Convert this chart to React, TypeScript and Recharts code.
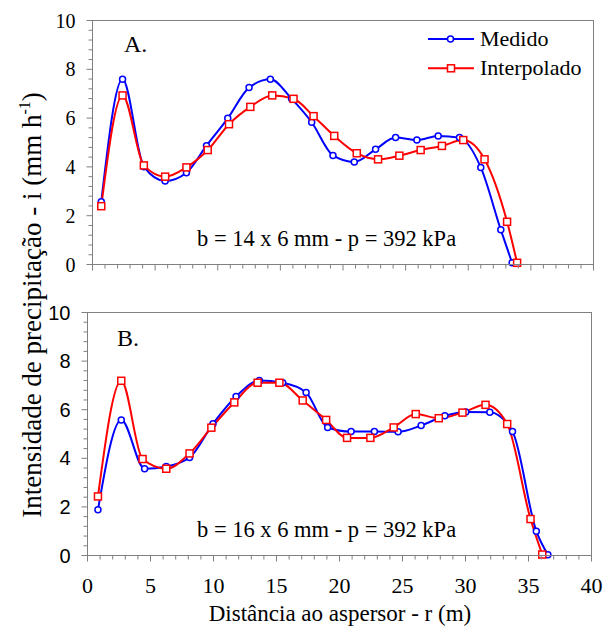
import React from "react";
import { Line, LineChart, XAxis, YAxis } from "recharts";

const AXIS = "#808080";
const BLUE = "#0000ff";
const RED = "#ff0000";
const SERIF = "'Liberation Serif', 'Times New Roman', serif";
const SANS = "'Liberation Sans', Arial, sans-serif";

// distance (m) and intensity (mm/h)
const aMedidoX = [0.7, 2.4, 4.1, 5.8, 7.5, 9.1, 10.8, 12.5, 14.2, 15.9, 17.5, 19.2, 20.9, 22.6, 24.2, 25.9, 27.6, 29.3, 31.0, 32.6, 33.5];
const aMedidoY = [2.57, 7.59, 4.01, 3.42, 3.76, 4.87, 5.99, 7.25, 7.59, 6.79, 5.83, 4.47, 4.2, 4.72, 5.2, 5.1, 5.27, 5.2, 3.98, 1.42, 0.07];
const aInterpX = [0.7, 2.4, 4.1, 5.8, 7.5, 9.2, 10.9, 12.6, 14.35, 16.05, 17.65, 19.3, 21.1, 22.8, 24.5, 26.2, 27.9, 29.6, 31.3, 33.1, 33.9];
const aInterpY = [2.39, 6.93, 4.06, 3.6, 3.98, 4.69, 5.75, 6.46, 6.93, 6.79, 6.08, 5.27, 4.56, 4.31, 4.46, 4.69, 4.86, 5.1, 4.31, 1.75, 0.07];

const bMedidoX = [0.83, 2.68, 4.53, 6.25, 8.1, 9.96, 11.79, 13.64, 15.49, 17.35, 19.06, 20.92, 22.77, 24.65, 26.48, 28.36, 30.02, 31.93, 33.73, 35.62, 36.54];
const bMedidoY = [1.88, 5.58, 3.57, 3.66, 4.03, 5.42, 6.54, 7.2, 7.11, 6.71, 5.27, 5.1, 5.1, 5.09, 5.35, 5.75, 5.91, 5.9, 5.1, 1.0, 0.03];
const bInterpX = [0.83, 2.68, 4.37, 6.25, 8.1, 9.83, 11.65, 13.5, 15.23, 17.08, 18.94, 20.6, 22.45, 24.3, 26.05, 27.88, 29.76, 31.59, 33.31, 35.16, 36.09];
const bInterpY = [2.43, 7.19, 3.97, 3.57, 4.2, 5.26, 6.3, 7.11, 7.11, 6.38, 5.58, 4.84, 4.84, 5.27, 5.82, 5.65, 5.88, 6.2, 5.41, 1.5, 0.04];

const xTicks = [0, 1, 2, 3, 4, 5, 6, 7, 8, 9, 10, 11, 12, 13, 14, 15, 16, 17, 18, 19, 20, 21, 22, 23, 24, 25, 26, 27, 28, 29, 30, 31, 32, 33, 34, 35, 36, 37, 38, 39, 40];
const yTicks = [0, 0.4, 0.8, 1.2, 1.6, 2, 2.4, 2.8, 3.2, 3.6, 4, 4.4, 4.8, 5.2, 5.6, 6, 6.4, 6.8, 7.2, 7.6, 8, 8.4, 8.8, 9.2, 9.6, 10];

const zip = (xs: number[], ys: number[]) => xs.map((x, i) => ({ x, y: ys[i] }));

// plot boxes of the two panels in page pixels (frame + tick marks)
const frames = [
  { left: 92.5, right: 593.5, top: 20.5, bottom: 264.5 },
  { left: 87.5, right: 591.5, top: 312.5, bottom: 555.5 },
];

function CircleDot(props: any) {
  const { cx, cy } = props;
  if (cx == null || cy == null) return null;
  return <circle cx={cx} cy={cy} r={3} fill="#fff" stroke={BLUE} strokeWidth={1.5} />;
}

function SquareDot(props: any) {
  const { cx, cy } = props;
  if (cx == null || cy == null) return null;
  return <rect x={cx - 3.5} y={cy - 3.5} width={7} height={7} fill="#fff" stroke={RED} strokeWidth={1.5} />;
}

function makeXTick(showLabels: boolean) {
  return (props: any) => {
    const { x, y, payload } = props;
    const major = payload.value % 5 === 0;
    if (!showLabels || !major) return <g />;
    return (
      <text x={x} y={Number(y) + 37} textAnchor="middle" fontFamily={SERIF} fontSize={22} fill="#000">
        {payload.value}
      </text>
    );
  };
}

function makeYTick(font: string, size: number) {
  return (props: any) => {
    const { x, y, payload } = props;
    const v = payload.value;
    const major = Number.isInteger(v) && v % 2 === 0;
    if (!major) return <g />;
    return (
      <text x={Number(x) - 17} y={Number(y) + 7} textAnchor="end" fontFamily={font} fontSize={size} fill="#000">
        {v}
      </text>
    );
  };
}

function Panel({
  medido,
  interp,
  height,
  margin,
  yWidth,
  showXLabels,
  yFont,
}: {
  medido: { x: number; y: number }[];
  interp: { x: number; y: number }[];
  height: number;
  margin: { top: number; right: number; bottom: number; left: number };
  yWidth: number;
  showXLabels: boolean;
  yFont: string;
}) {
  return (
    <LineChart width={605} height={height} margin={margin}>
      <XAxis
        dataKey="x"
        type="number"
        domain={[0, 40]}
        ticks={xTicks}
        interval={0}
        height={1}
        tickSize={0}
        tickMargin={0}
        tickLine={false}
        axisLine={{ stroke: AXIS }}
        tick={makeXTick(showXLabels)}
      />
      <YAxis
        type="number"
        domain={[0, 10]}
        ticks={yTicks}
        interval={0}
        width={yWidth}
        tickSize={0}
        tickMargin={0}
        tickLine={false}
        axisLine={{ stroke: AXIS }}
        tick={makeYTick(yFont, 20)}
      />
      <Line
        data={medido}
        dataKey="y"
        name="Medido"
        type="monotone"
        stroke={BLUE}
        strokeWidth={2}
        dot={<CircleDot />}
        isAnimationActive={false}
      />
      <Line
        data={interp}
        dataKey="y"
        name="Interpolado"
        type="monotone"
        stroke={RED}
        strokeWidth={2}
        dot={<SquareDot />}
        isAnimationActive={false}
      />
    </LineChart>
  );
}

export default function App() {
  const legendRows = [
    { name: "Medido", color: BLUE, square: false, cy: 39 },
    { name: "Interpolado", color: RED, square: true, cy: 68.3 },
  ];
  return (
    <div style={{ position: "absolute", left: 0, top: 0, width: 605, height: 633, background: "#fff" }}>
      <div style={{ position: "absolute", left: 0, top: 0 }}>
        <Panel
          medido={zip(aMedidoX, aMedidoY)}
          interp={zip(aInterpX, aInterpY)}
          height={290}
          margin={{ top: 20.5, right: 11.5, bottom: 24.5, left: 0 }}
          yWidth={92.5}
          showXLabels={false}
          yFont={SERIF}
        />
      </div>
      <div style={{ position: "absolute", left: 0, top: 292 }}>
        <Panel
          medido={zip(bMedidoX, bMedidoY)}
          interp={zip(bInterpX, bInterpY)}
          height={341}
          margin={{ top: 20.5, right: 13.5, bottom: 76.5, left: 0 }}
          yWidth={87.5}
          showXLabels
          yFont={SANS}
        />
      </div>
      <svg
        width={605}
        height={633}
        style={{ position: "absolute", left: 0, top: 0, pointerEvents: "none" }}
      >
        {/* panel frames and tick marks */}
        {frames.map((f, i) => {
          const sx = (v: number) => f.left + ((f.right - f.left) * v) / 40;
          const sy = (v: number) => f.bottom - ((f.bottom - f.top) * v) / 10;
          return (
            <g key={i} stroke={AXIS} strokeWidth={1} fill="none">
              <rect x={f.left} y={f.top} width={f.right - f.left} height={f.bottom - f.top} />
              {xTicks.map((t) => (
                <line key={"x" + t} x1={sx(t)} x2={sx(t)} y1={f.bottom} y2={f.bottom + (t % 5 === 0 ? 6 : 4)} />
              ))}
              {yTicks.map((t) => (
                <line
                  key={"y" + t}
                  x1={f.left - (Number.isInteger(t) && t % 2 === 0 ? 6 : 4)}
                  x2={f.left}
                  y1={sy(t)}
                  y2={sy(t)}
                />
              ))}
            </g>
          );
        })}
        {legendRows.map((r) => (
          <g key={r.name}>
            <line x1={428} x2={474} y1={r.cy} y2={r.cy} stroke={r.color} strokeWidth={2} />
            {r.square ? (
              <rect x={447.5} y={r.cy - 3.5} width={7} height={7} fill="#fff" stroke={r.color} strokeWidth={1.5} />
            ) : (
              <circle cx={450.5} cy={r.cy} r={3} fill="#fff" stroke={r.color} strokeWidth={1.5} />
            )}
            <text x={480} y={r.cy + 7} fontFamily={SERIF} fontSize={22} fill="#000">
              {r.name}
            </text>
          </g>
        ))}
        <g fontFamily={SERIF} fill="#000">
          <text x={124} y={52} fontSize={24}>A.</text>
          <text x={117} y={346} fontSize={24}>B.</text>
          <text x={197} y={246} fontSize={22.5}>b = 14 x 6 mm - p = 392 kPa</text>
          <text x={197} y={537} fontSize={22.5}>b = 16 x 6 mm - p = 392 kPa</text>
          <text x={340} y={621} fontSize={23} textAnchor="middle">
            Distância ao aspersor - r (m)
          </text>
          <text transform="translate(41,305) rotate(-90)" fontSize={27} textAnchor="middle">
            Intensidade de precipitação - i (mm h
            <tspan fontSize={16} dy={-11}>-1</tspan>
            <tspan dy={11}>)</tspan>
          </text>
        </g>
      </svg>
    </div>
  );
}
